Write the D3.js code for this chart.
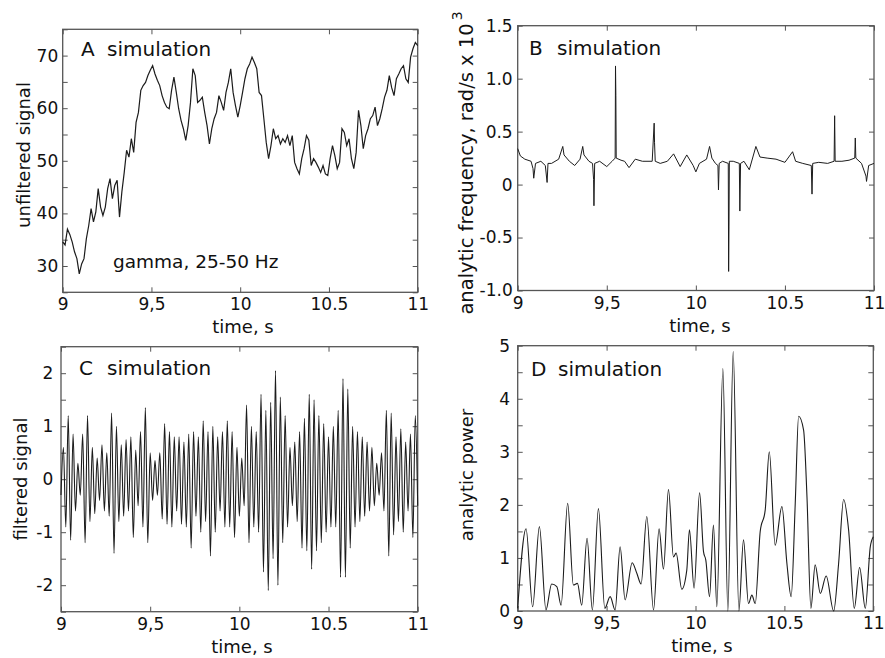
<!DOCTYPE html>
<html><head><meta charset="utf-8">
<script src="https://cdn.jsdelivr.net/npm/d3@7"></script>
<style>
body{margin:0;background:#fff}
svg{display:block}
text{font-family:"DejaVu Sans",sans-serif;fill:#111}
</style>
</head><body>
<svg id="chart" width="885" height="658"></svg>
<script>
// ---------- data ----------
const xTickValues = [9, 9.5, 10, 10.5, 11];
const xTickLabels = ["9", "9,5", "10", "10.5", "11"];

// A: unfiltered signal, uniformly sampled from 9 s to 11 s
const unfilteredSignal = [
34.6,34,37,36,34.6,32.7,31.4,28.5,30.4,31.4,35.2,37.7,40.9,38.4,40.3,44.7,41.2,39.6,41.2,44.7,
46.6,42.8,45.3,46.3,39.3,44.1,47.8,52,50.7,54.2,51.6,57.3,59.2,63.4,64.3,64.9,66.2,67.2,68.1,66.5,
65.3,64.3,62.4,61.1,60.2,59.9,63.4,65.9,63,59.9,57.7,56.1,53.9,56.7,61.1,67.5,66.2,61.1,61.5,62.1,
59.2,56.7,53.2,56.1,58,59.2,62.4,61.1,59.6,63,64.9,67.5,63,60.5,58.3,
60.5,63,65.6,67.5,68.4,69.7,68.7,67.5,63,62.4,58,53.5,50.4,52.9,56.1,54.2,54.8,53.2,54.2,53.5,
54.8,52.9,54.8,49.7,48.5,47.5,50.4,52.3,54.8,53.9,49.1,50.4,49.7,48.8,47.8,49.1,47.5,47.2,50.4,52.9,
51,48.5,49.7,56.1,55.4,52.9,54.2,50.4,48.5,51.6,59.6,56.7,52.3,54.8,56.1,58,58.6,60.2,56.7,58,
59.9,62.1,63.4,66.2,63.9,62.4,65.6,66.5,67.5,68.1,65.6,64.9,69.7,71.3,72.5,71.9
];
const aYTickValues = [25,30,35,40,45,50,55,60,65,70,75];
const aYTickLabels = ["","30","","40","","50","","60","","70",""];

// B: analytic frequency (rad/s x 10^3)
const freqTime = [
9.000,9.015,9.040,9.075,9.086,9.090,9.100,9.130,9.155,9.165,9.170,9.190,9.230,9.253,9.260,9.290,
9.320,9.350,9.365,9.372,9.400,9.420,9.426,9.428,9.432,9.460,9.500,9.530,9.547,9.549,9.551,9.553,
9.580,9.600,9.625,9.660,9.700,9.755,9.766,9.768,9.772,9.800,9.840,9.875,9.912,9.949,9.985,10.000,
10.020,10.060,10.077,10.090,10.110,10.124,10.127,10.131,10.150,10.182,10.184,10.186,10.188,10.210,
10.244,10.247,10.251,10.270,10.300,10.337,10.360,10.400,10.450,10.500,10.543,10.560,10.600,10.648,
10.652,10.656,10.690,10.740,10.776,10.779,10.782,10.820,10.860,10.892,10.895,10.898,10.930,10.955,
10.958,10.970,11.000
];
const freqValue = [
0.34,0.27,0.24,0.22,0.15,0.06,0.20,0.22,0.18,0.02,0.20,0.20,0.24,0.36,0.28,0.22,
0.18,0.24,0.36,0.28,0.22,0.20,0.05,-0.20,0.20,0.22,0.17,0.22,0.25,1.12,0.84,0.25,
0.23,0.22,0.16,0.24,0.22,0.22,0.58,0.40,0.22,0.20,0.22,0.29,0.17,0.28,0.18,0.12,
0.20,0.24,0.36,0.25,0.20,0.18,-0.05,0.20,0.22,0.20,-0.82,-0.40,0.22,0.22,
0.20,-0.25,0.20,0.22,0.14,0.36,0.26,0.25,0.24,0.21,0.31,0.22,0.20,0.18,
-0.09,0.20,0.21,0.20,0.22,0.65,0.22,0.22,0.23,0.25,0.44,0.25,0.20,0.08,
0.03,0.18,0.20
];
const bYTickValues = [-1,-0.5,0,0.5,1,1.5];
const bYTickLabels = ["-1.0","-0.5","0","0.5","1.0","1.5"];

// C: filtered signal, successive extrema (uniformly spaced from 9 s to 11 s)
const filteredExtrema = [
-0.3,
0.6,-0.9, 1.2,-1.15, 0.85,-0.6, 0.3,-0.3, 0.85,-1.2, 1.2,-0.8, 0.6,-0.65, 0.4,-0.4,
0.65,-0.6, 0.5,-0.7, 1.25,-1.4, 1.0,-0.8, 0.65,-0.7, 0.75,-0.6, 0.8,-1.1, 0.55,-0.5,
0.9,-0.9, 1.35,-1.2, 0.5,-0.4, 0.35,-0.3, 0.5,-0.75, 1.05,-0.85, 0.9,-0.9, 0.8,-0.6,
0.8,-0.85, 0.7,-0.9, 0.85,-1.3, 0.9,-0.7, 0.8,-1.0, 1.1,-0.8, 0.9,-1.45, 1.0,-1.0,
0.8,-0.6, 0.9,-0.9, 1.1,-0.9, 0.9,-1.1, 0.6,-0.7, 0.4,-0.5, 1.4,-1.2, 1.0,-0.9,
0.9,-1.0, 1.6,-1.75, 1.3,-2.1, 1.45,-1.5, 2.05,-2.0, 1.55,-1.2, 1.2,-0.9, 0.6,-0.5,
0.7,-0.8, 0.9,-1.3, 1.15,-1.35, 1.6,-1.7, 1.5,-1.35, 1.2,-1.2, 1.05,-1.0, 0.8,-0.9,
1.0,-0.9, 1.3,-1.85, 1.9,-1.85, 1.7,-1.3, 1.0,-0.9, 0.9,-0.8, 0.8,-0.7, 0.7,-0.6,
0.6,-0.5, 0.3,-0.3, 0.5,-0.6, 1.3,-1.45, 1.25,-1.05, 0.8,-0.8, 0.95,-1.0, 0.7,-0.6,
0.85,-1.1, 1.2,-0.5
];
const cYTickValues = [-2.5,-2,-1.5,-1,-0.5,0,0.5,1,1.5,2,2.5];
const cYTickLabels = ["","-2","","-1","","0","","1","","2",""];

// D: analytic power
const powerTime = [
9.000,9.047,9.084,9.122,9.159,9.191,9.220,9.244,9.281,9.313,9.336,9.360,9.390,9.420,9.454,9.490,
9.520,9.548,9.576,9.604,9.644,9.670,9.694,9.726,9.764,9.795,9.820,9.848,9.876,9.891,9.923,9.951,
9.966,9.992,10.023,10.045,10.058,10.079,10.101,10.120,10.154,10.182,10.212,10.244,10.270,10.298,
10.317,10.336,10.364,10.392,10.415,10.448,10.486,10.514,10.538,10.561,10.580,10.608,10.627,10.649,
10.673,10.702,10.735,10.777,10.805,10.833,10.861,10.893,10.923,10.955,10.983,11.000
];
const powerValue = [
0.05,1.55,0.08,1.59,0.02,0.51,0.46,0.11,2.03,0.49,0.52,0.11,1.37,0.02,1.93,0.05,
0.27,0.02,1.21,0.21,0.91,0.71,0.51,1.78,0.02,1.55,0.79,2.29,1.02,1.09,0.41,0.77,
1.53,0.43,2.23,1.12,0.96,0.27,1.62,0.08,4.57,0.0,4.89,0.0,1.34,0.14,
0.30,0.14,1.50,1.90,3.00,1.24,1.97,0.90,0.27,2.03,3.67,3.41,2.15,0.05,
0.87,0.33,0.66,0.0,0.90,2.10,1.53,0.05,0.82,0.05,1.21,1.40
];
const dYTickValues = [0,0.5,1,1.5,2,2.5,3,3.5,4,4.5,5];
const dYTickLabels = ["0","","1","","2","","3","","4","","5"];

// ---------- drawing ----------
const svg = d3.select("#chart");
const INK = "#1c1c1c";

const panels = [
  {letter:"A", box:[62.7,417.7,29.3,292.3], yDomain:[25,75], yTicks:aYTickValues, yLabels:aYTickLabels,
   yPad:4.5, ylabel:"unfiltered signal", ylSize:18, ylx:24, yly:155, titleX:81, titleY:56, simX:107,
   timeX:243},
  {letter:"B", box:[517.7,874,25.7,290.5], yDomain:[-1,1.5], yTicks:bYTickValues, yLabels:bYTickLabels,
   yPad:5, ylabel:"analytic frequency, rad/s x 10", ylSize:19.5, ylx:466, yly:163, titleX:529, titleY:55, simX:557,
   timeX:700},
  {letter:"C", box:[61,417.7,346.7,611.7], yDomain:[-2.5,2.5], yTicks:cYTickValues, yLabels:cYTickLabels,
   yPad:7.7, ylabel:"filtered signal", ylSize:18, ylx:21, yly:479, titleX:79, titleY:375, simX:107,
   timeX:242},
  {letter:"D", box:[517.7,873.3,345.7,611], yDomain:[0,5], yTicks:dYTickValues, yLabels:dYTickLabels,
   yPad:7.7, ylabel:"analytic power", ylSize:18, ylx:467, yly:475, titleX:531, titleY:375.5, simX:558,
   timeX:702}
];

panels.forEach(p => {
  const [x0,x1,y0,y1] = p.box;
  p.x = d3.scaleLinear().domain([9,11]).range([x0,x1]);
  p.y = d3.scaleLinear().domain(p.yDomain).range([y1,y0]);
  const g = svg.append("g");
  p.g = g;

  const labelOf = (vals, labs) => d => labs[vals.indexOf(d)];

  const ax = g.append("g").attr("transform",`translate(0,${y1})`)
    .call(d3.axisBottom(p.x).tickValues(xTickValues).tickFormat(labelOf(xTickValues,xTickLabels))
      .tickSizeInner(-5).tickSizeOuter(0).tickPadding(6));
  const axT = g.append("g").attr("transform",`translate(0,${y0})`)
    .call(d3.axisTop(p.x).tickValues(xTickValues).tickFormat("").tickSizeInner(-5).tickSizeOuter(0));
  const ay = g.append("g").attr("transform",`translate(${x0},0)`)
    .call(d3.axisLeft(p.y).tickValues(p.yTicks).tickFormat(labelOf(p.yTicks,p.yLabels))
      .tickSizeInner(-5).tickSizeOuter(0).tickPadding(p.yPad));
  const ayR = g.append("g").attr("transform",`translate(${x1},0)`)
    .call(d3.axisRight(p.y).tickValues(p.yTicks).tickFormat("").tickSizeInner(-5).tickSizeOuter(0));

  [ax,axT,ay,ayR].forEach(a => {
    a.select(".domain").remove();
    a.selectAll("line").attr("stroke","#555").attr("stroke-width",1);
    a.selectAll("text").attr("font-size",17).attr("fill","#111")
      .attr("font-family","DejaVu Sans, sans-serif");
  });

  g.append("rect").attr("x",x0).attr("y",y0).attr("width",x1-x0).attr("height",y1-y0)
    .attr("fill","none").attr("stroke","#555").attr("stroke-width",1.3);

  g.append("text").attr("x",p.titleX).attr("y",p.titleY).attr("font-size",20).text(p.letter);
  g.append("text").attr("x",p.simX).attr("y",p.titleY).attr("font-size",20).text("simulation");

  g.append("text").attr("x",p.timeX).attr("y",y1+41).attr("text-anchor","middle")
    .attr("font-size",18).text("time, s");

  const yl = g.append("text").attr("transform",`translate(${p.ylx},${p.yly}) rotate(-90)`)
    .attr("text-anchor","middle").attr("dy","0.35em").attr("font-size",p.ylSize).text(p.ylabel);
  if (p.letter === "B") {
    yl.append("tspan").attr("font-size",14).attr("dy","-0.8em").attr("dx","3").text("3");
  }
});

// ---------- series ----------
const [pA,pB,pC,pD] = panels;

const nA = unfilteredSignal.length;
pA.g.append("path")
  .datum(unfilteredSignal.map((v,i) => [9 + 2*i/(nA-1), v]))
  .attr("fill","none").attr("stroke",INK).attr("stroke-width",1.2)
  .attr("d", d3.line().x(d=>pA.x(d[0])).y(d=>pA.y(d[1])));
pA.g.append("text").attr("x",113).attr("y",268).attr("font-size",18.5).text("gamma, 25-50 Hz");

pB.g.append("path")
  .datum(freqTime.map((t,i) => [t, freqValue[i]]))
  .attr("fill","none").attr("stroke",INK).attr("stroke-width",1)
  .attr("d", d3.line().x(d=>pB.x(d[0])).y(d=>pB.y(d[1])));

const nC = filteredExtrema.length;
pC.g.append("path")
  .datum(filteredExtrema.map((v,i) => [9 + 2*i/(nC-1), v]))
  .attr("fill","none").attr("stroke",INK).attr("stroke-width",1.1)
  .attr("d", d3.line().curve(d3.curveMonotoneX).x(d=>pC.x(d[0])).y(d=>pC.y(d[1])));

pD.g.append("path")
  .datum(powerTime.map((t,i) => [t, powerValue[i]]))
  .attr("fill","none").attr("stroke",INK).attr("stroke-width",1.1)
  .attr("d", d3.line().curve(d3.curveMonotoneX).x(d=>pD.x(d[0])).y(d=>pD.y(d[1])));
</script>
</body></html>
